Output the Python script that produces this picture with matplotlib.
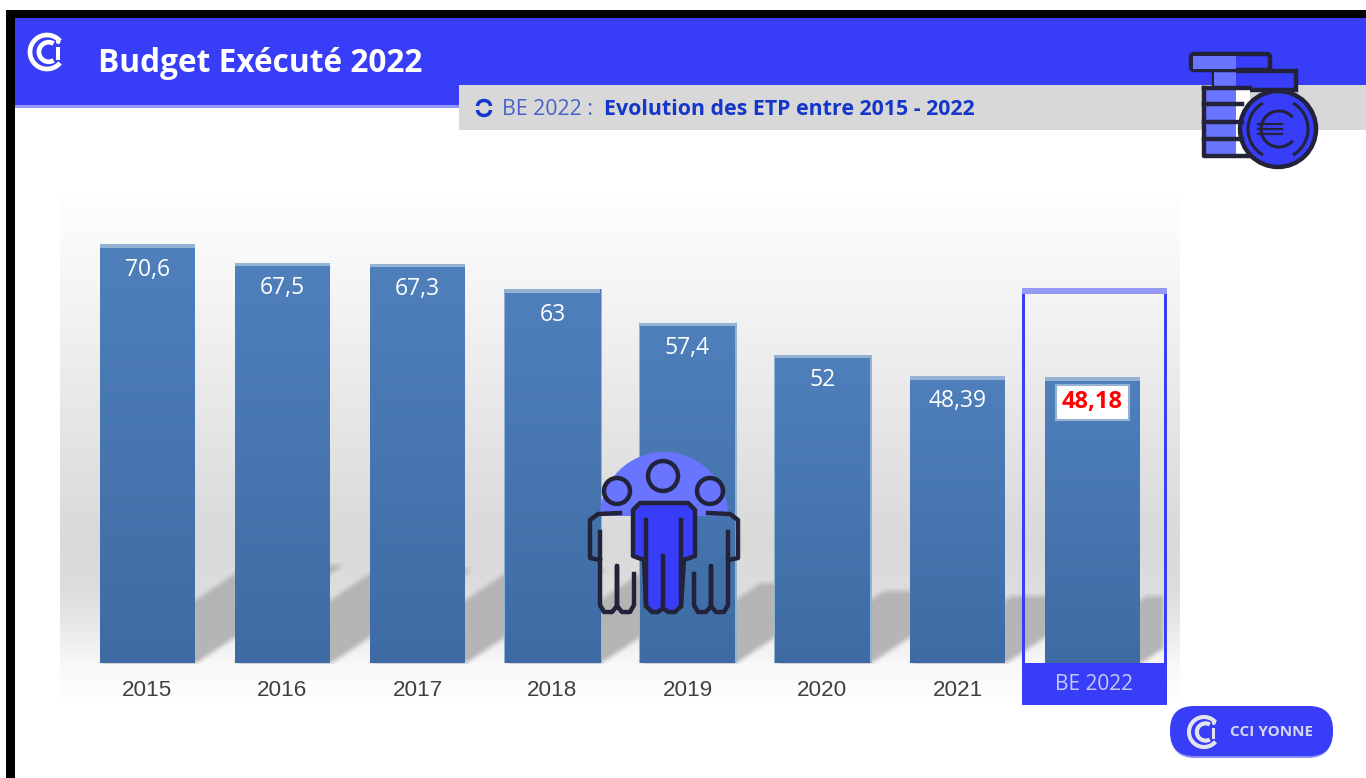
import matplotlib
matplotlib.use("Agg")
import matplotlib.pyplot as plt
from matplotlib.colors import LinearSegmentedColormap
from matplotlib.patches import Rectangle, Circle, Polygon, Arc, FancyBboxPatch, Wedge
import numpy as np

categories = ["2015", "2016", "2017", "2018", "2019", "2020", "2021", "BE 2022"]
values = [70.6, 67.5, 67.3, 63, 57.4, 52, 48.39, 48.18]
value_labels = ["70,6", "67,5", "67,3", "63", "57,4", "52", "48,39", "48,18"]
title = "Budget Exécuté 2022"
sub_a = "BE 2022 : "
sub_b = "Evolution des ETP entre 2015 - 2022"

BLUE = "#383DF7"
LIGHT = "#6A75FF"
PALE = "#9498F5"
DARK = "#22223A"
EDGE = "#94B2D4"
W, H = 1366, 778
BASE = 663      # pixel row of the bar baseline
SCALE = 5.93    # pixels per value unit
SPACING = 135
BAR_W = 95

fig = plt.figure(figsize=(W / 100, H / 100), dpi=100, facecolor="white")


def px_axes(z):
    a = fig.add_axes([0, 0, 1, 1], zorder=z)
    a.set_xlim(0, W)
    a.set_ylim(H, 0)
    a.axis("off")
    a.patch.set_alpha(0)
    return a


# background panel, grey levels read at these pixel rows
bg = px_axes(0)
rows = [190, 240, 300, 430, 540, 590, 640, 663, 705]
greys = [255, 250, 244, 229, 217, 221, 238, 248, 255]
yy = np.arange(190, 705)
panel = np.interp(yy, rows, greys) / 255
bg.imshow(np.repeat(panel[:, None], 3, axis=1)[:, None, :], extent=[60, 1180, 705, 190], aspect="auto", zorder=1)

# floor shadows: each bar sheared up and to the right, then softened
gx, gy = np.meshgrid(np.arange(60, 1164), np.arange(540, 664))
mask = np.zeros(gx.shape)
for i, v in enumerate(values):
    x0 = 147.5 + i * SPACING - BAR_W / 2
    h = 1.4 * v
    up = BASE - gy
    shifted = gx - up * 1.5
    mask = np.maximum(mask, ((up >= 0) & (up <= h) & (shifted >= x0) & (shifted <= x0 + BAR_W)).astype(float))
kernel = np.ones(7) / 7
mask = np.apply_along_axis(lambda r: np.convolve(r, kernel, mode="same"), 0, mask)
mask = np.apply_along_axis(lambda r: np.convolve(r, kernel, mode="same"), 1, mask)
rgba = np.zeros(mask.shape + (4,))
rgba[..., :3] = 0.70
rgba[..., 3] = mask * 0.95
bg.imshow(rgba, extent=[60, 1164, 664, 540], aspect="auto", zorder=2)
bg.set_xlim(0, W)
bg.set_ylim(H, 0)

# bars
ax = fig.add_axes([80 / W, (H - BASE) / H, 1080 / W, 480 / H], zorder=1)
ax.patch.set_alpha(0)
x = np.arange(len(values))
width = BAR_W / SPACING
cmap = LinearSegmentedColormap.from_list("bar", ["#4F80BC", "#3E6BA3"])

bars = ax.bar(x, values, width=width, color="#4F80BC", zorder=3)
for i, (rect, v) in enumerate(zip(bars, values)):
    x0 = rect.get_x()
    if i in (3, 4, 5):
        ax.bar(x0 + width / 2, v, width=width + 3 / SPACING, color=EDGE, zorder=2)
    im = ax.imshow(np.linspace(0, 1, 256)[:, None], cmap=cmap, extent=[x0, x0 + width, 0, v], aspect="auto", zorder=4)
    im.set_clip_path(rect)
    ax.bar(x0 + width / 2, .6, bottom=v - .6, width=width, color=EDGE, zorder=5)
ax.set_xlim(-0.5, len(values) - 0.5)
ax.set_ylim(0, 480 / SCALE)

ax.set_xticks(x[:-1])
ax.set_xticklabels(categories[:-1], fontsize=16.2, color="#404040", family="Liberation Sans")
ax.tick_params(length=0, pad=12)
ax.set_yticks([])
for s in ax.spines.values():
    s.set_visible(False)

for xi, v, lab in zip(x[:-1], values[:-1], value_labels[:-1]):
    ax.text(xi, v - 4.25, lab, ha="center", va="center", color="white", fontsize=16.5, family="Open Sans", zorder=6)
ax.text(x[-1], values[-1] - 4.25, value_labels[-1], ha="center", va="center", color="#FF0000",
        fontsize=17, family="Open Sans", fontweight="bold", zorder=7,
        bbox=dict(boxstyle="square,pad=0.25", fc="white", ec=EDGE, lw=1.5))

# overlay: header, highlight box, icons
top = px_axes(2)
top.add_patch(Rectangle((15, 18), W - 15, 67, color=BLUE, lw=0))
top.add_patch(Rectangle((15, 85), 444, 20, color=BLUE, lw=0))
top.add_patch(Rectangle((15, 105), 444, 3, color=PALE, lw=0))
top.add_patch(Rectangle((459, 85), W - 459, 45, color="#D8D8D8", lw=0))
top.add_patch(Rectangle((6, 10), W - 6, 8, color="black", lw=0))
top.add_patch(Rectangle((6, 10), 9, H - 10, color="black", lw=0))

top.text(98, 63, title, color="white", fontsize=22.8, fontweight="bold", family="Open Sans", va="center")
top.text(502, 109, sub_a, color="#4A62C8", fontsize=15.4, family="Open Sans", va="center")
top.text(604, 109, sub_b, color="#1537C9", fontsize=15.4, fontweight="bold", family="Open Sans", va="center")
# little loop arrows before the subtitle
top.add_patch(Arc((484, 106), 13, 11, theta1=180, theta2=360, color="#1537C9", lw=2.5))
top.add_patch(Arc((484, 110), 13, 11, theta1=0, theta2=180, color="#1537C9", lw=2.5))


def logo(a, cx, cy, r, col):
    a.add_patch(Arc((cx, cy), 2 * r, 2 * r, theta1=40, theta2=320, color=col, lw=r * .2))
    a.add_patch(Arc((cx + r * .1, cy), 1.15 * r, 1.15 * r, theta1=60, theta2=300, color=col, lw=r * .2))
    a.add_patch(Rectangle((cx + r * .55, cy - r * .3), r * .2, r * .75, color=col, lw=0))
    a.add_patch(Circle((cx + r * .66, cy - r * .6), r * .13, color=col, lw=0))


logo(top, 47, 52, 17, "white")

# highlighted last category
top.add_patch(Rectangle((1022, 663), 145, 42, color=BLUE, lw=0))
top.add_patch(Rectangle((1022, 290), 3, 373, color=BLUE, lw=0))
top.add_patch(Rectangle((1164, 290), 3, 373, color=BLUE, lw=0))
top.add_patch(Rectangle((1022, 288), 145, 6, color=PALE, lw=0))
top.text(1094, 684, categories[-1], color="#C6C9FB", fontsize=15, family="Open Sans", ha="center", va="center")

# coin stack
lw = 3.2
top.add_patch(Rectangle((1214, 71), 82, 19, fc=BLUE, ec=DARK, lw=lw))
top.add_patch(Rectangle((1214, 71), 22, 19, fc=LIGHT, lw=0))
top.add_patch(FancyBboxPatch((1191, 54), 79, 16, boxstyle="round,pad=0,rounding_size=3", fc=BLUE, ec=DARK, lw=lw))
top.add_patch(Rectangle((1193, 56), 43, 13, fc=LIGHT, lw=0))
top.add_patch(Rectangle((1205, 89), 31, 67, fc=LIGHT, lw=0))
top.add_patch(Rectangle((1236, 89), 14, 67, fc="white", lw=0))
top.plot([1204, 1204, 1250], [88, 156, 156], color=DARK, lw=lw)
top.plot([1204, 1250], [88, 88], color=DARK, lw=lw)
for yy_line in [104, 122, 139]:
    top.plot([1204, 1242], [yy_line, yy_line], color=DARK, lw=lw)
top.add_patch(Circle((1278, 129), 38, fc=BLUE, ec=DARK, lw=lw))
top.add_patch(Arc((1278, 129), 60, 60, theta1=-60, theta2=60, color=DARK, lw=2.2))
top.add_patch(Arc((1278, 129), 60, 60, theta1=120, theta2=240, color=DARK, lw=2.2))
top.add_patch(Arc((1279, 129), 36, 36, theta1=40, theta2=320, color=DARK, lw=2.2))
for yy_line in [124, 129, 134]:
    top.plot([1258, 1282], [yy_line, yy_line], color=DARK, lw=1.6)

# people icon
top.add_patch(Wedge((664, 516), 64, 180, 360, color=LIGHT, lw=0))
for cx, cy, r in [(663, 476, 15), (617, 491, 13), (710, 491, 13)]:
    top.add_patch(Circle((cx, cy), r, fc=LIGHT, ec=DARK, lw=lw))
top.add_patch(Polygon([(633, 510), (640, 503), (688, 503), (695, 510), (695, 556), (684, 560), (681, 606),
                       (675, 612), (668, 612), (663, 608), (658, 612), (652, 612), (646, 606), (644, 560),
                       (633, 556)], closed=True, fc=BLUE, ec=DARK, lw=lw, joinstyle="round"))
top.plot([646, 646], [520, 606], color=DARK, lw=lw)
top.plot([681, 681], [520, 606], color=DARK, lw=lw)
top.plot([663, 663], [556, 608], color=DARK, lw=lw)
# side figures, outline only, mirrored around the middle figure
side_x = np.array([620, 598, 590, 590, 600])
side_y = [513, 514, 520, 558, 560]
leg_x = np.array([600, 600, 604, 612, 617, 617, 617, 622, 630, 634, 634])
leg_y = [532, 605, 612, 612, 606, 566, 606, 612, 612, 605, 574]
for flip in (False, True):
    sx = 1328 - side_x if flip else side_x
    lx = 1328 - leg_x if flip else leg_x
    top.plot(sx, side_y, color=DARK, lw=lw, solid_joinstyle="round")
    top.plot(lx, leg_y, color=DARK, lw=lw, solid_joinstyle="round")

# footer badge
top.add_patch(FancyBboxPatch((1171, 708), 161, 50, boxstyle="round,pad=0,rounding_size=24", fc="#8A8DF8", lw=0))
top.add_patch(FancyBboxPatch((1170, 706), 163, 50, boxstyle="round,pad=0,rounding_size=24", fc=BLUE, lw=0))
logo(top, 1204, 732, 15, "#E4E4F0")
top.text(1272, 732, "CCI YONNE", color="#D5D7F5", fontsize=11, fontweight="bold", family="Open Sans",
         ha="center", va="center")

fig.savefig("out.png", dpi=100, facecolor="white")
